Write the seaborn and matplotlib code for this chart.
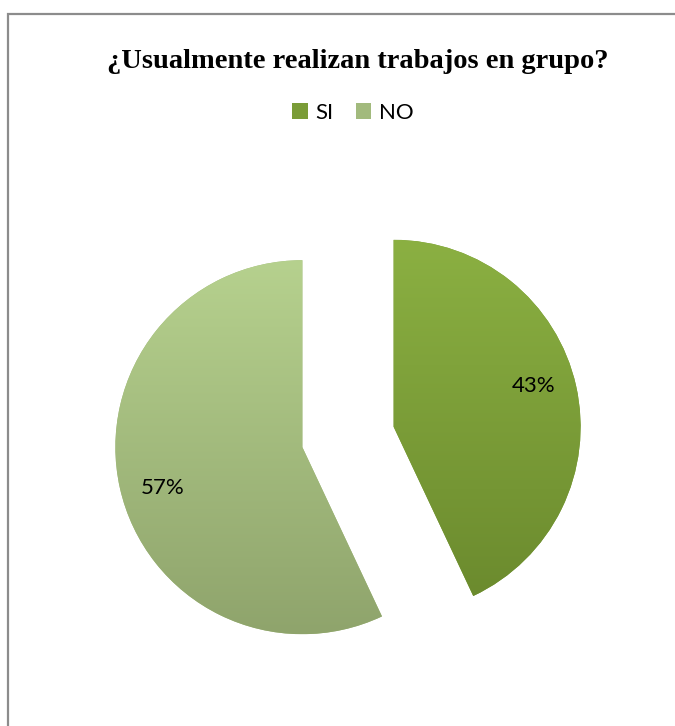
import seaborn as sns
import matplotlib.pyplot as plt
import matplotlib.patches as patches
from matplotlib.colors import ListedColormap
import numpy as np

# data
labels = ['SI', 'NO']
values = [43, 57]
title = '¿Usualmente realizan trabajos en grupo?'

# gradient colours, top -> bottom
grad_si = ['#8bb042', '#6a892d']
grad_no = ['#b6d18e', '#8fa46c']

sns.set_style('white')
plt.rcParams['font.family'] = ['Lato', 'DejaVu Sans']
plt.rcParams['text.color'] = 'black'

fig = plt.figure(figsize=(6.75, 7.26), dpi=100)
ax = fig.add_axes([0, 0, 1, 1])

# radius 1 == 187 px, centre at pixel (348, 437)
r_px = 187.0
cx, cy = 348.0, 437.0
xlim = (-cx / r_px, (675 - cx) / r_px)
ylim = (-(726 - cy) / r_px, cy / r_px)

mids = [sns.blend_palette(g, 3)[1] for g in (grad_si, grad_no)]
wedges, texts, autotexts = ax.pie(values, labels=None, colors=mids,
                                  startangle=90, counterclock=False,
                                  explode=[0.25, 0.25], radius=1,
                                  autopct='%1.0f%%', pctdistance=0.78,
                                  textprops={'fontsize': 16, 'color': 'black'},
                                  frame=True)

# vertical gradient fill clipped to each wedge
for w, g in zip(wedges, (grad_si, grad_no)):
    cmap = ListedColormap(sns.blend_palette(g, 256))
    x0, y0 = w.center[0] - 1, w.center[1] - 1
    grad = np.linspace(0, 1, 256).reshape(-1, 1)
    im = ax.imshow(grad, cmap=cmap, extent=[x0, x0 + 2, y0, y0 + 2],
                   origin='upper', aspect='auto', zorder=w.get_zorder() + 0.1)
    im.set_clip_path(w)
    w.set_edgecolor('none')

# percentage labels sit a little anticlockwise of the bisector
for w, t in zip(wedges, autotexts):
    ang = np.deg2rad((w.theta1 + w.theta2) / 2 + 3.5)
    t.set_position((w.center[0] + 0.78 * np.cos(ang),
                    w.center[1] + 0.78 * np.sin(ang)))
    t.set_zorder(5)

ax.set_xlim(*xlim)
ax.set_ylim(*ylim)
ax.set_aspect('auto')
ax.axis('off')

fig.text(358 / 675, 1 - 62 / 726, title, ha='center', va='center', color='black',
         fontsize=20.5, fontweight='bold', family=['Liberation Serif', 'DejaVu Serif'])

fig.legend(wedges, labels, loc='center', ncol=2, frameon=False,
           bbox_to_anchor=(353 / 675, 1 - 113 / 726), fontsize=16,
           handlelength=0.7, handleheight=0.7, handletextpad=0.35,
           columnspacing=1.0, labelcolor='black')

fig.patches.append(patches.Rectangle((8 / 675, -0.1), 1.2, 1.1 - 14 / 726,
                                     transform=fig.transFigure, fill=False,
                                     edgecolor='#8c8c8c', linewidth=1.6))

fig.savefig('out.png', dpi=100, facecolor='white')
